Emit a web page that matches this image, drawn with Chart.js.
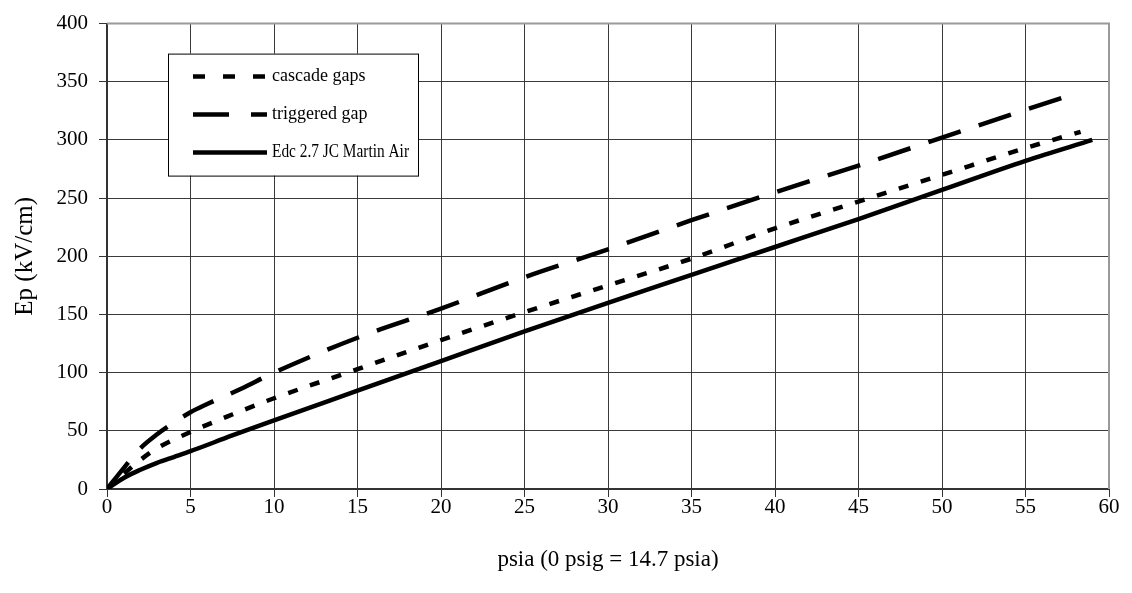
<!DOCTYPE html>
<html>
<head>
<meta charset="utf-8">
<script src="https://cdn.jsdelivr.net/npm/chart.js@4.4.1/dist/chart.umd.min.js"></script>
<style>
    html, body { margin: 0; padding: 0; background: #fff; }
    #wrap { width: 1132px; height: 593px; }
</style>
</head>
<body>
<div id="wrap"><canvas id="ep-chart" width="1132" height="593"></canvas></div>
<script>
// pressure (psia) and peak field (kV/cm) for each curve
const psiCascade = [0, 1, 2, 3, 5, 7.5, 10, 15, 20, 25, 30, 35, 40, 45, 50, 55, 58.3];
const epCascade = [0, 13, 25, 35, 49, 64, 78, 103, 128, 152, 175, 198, 224, 247, 270, 293, 307];

const psiTriggered = [0, 1, 2, 3, 4, 5, 6, 8, 10, 15, 20, 25, 30, 35, 40, 45, 50, 55, 58];
const epTriggered = [0, 18, 35, 47, 57, 66, 73, 86, 100, 130, 155, 182, 206, 231, 255, 278, 302, 326, 340];

const psiMartin = [0, 1, 2, 3, 4, 5, 7.5, 10, 15, 20, 25, 30, 35, 40, 45, 50, 55, 59];
const epMartin = [0, 9.5, 16.5, 22.5, 27.5, 32.5, 46, 59, 84.5, 110, 135.5, 160, 184, 208, 232, 257, 282, 300];

const seriesNames = ['cascade gaps', 'triggered gap', 'Edc 2.7 JC Martin Air'];
const xTicks = [0, 5, 10, 15, 20, 25, 30, 35, 40, 45, 50, 55, 60];
const yTicks = [0, 50, 100, 150, 200, 250, 300, 350, 400];

const FONT = '"Liberation Serif", "Times New Roman", serif';

const toPoints = (xs, ys) => xs.map((x, i) => ({ x: x, y: ys[i] }));

// grey frame on top/right of the plot
const plotFrame = {
    id: 'plotFrame',
    afterDraw(chart) {
        const { ctx, chartArea: a } = chart;
        ctx.save();
        ctx.strokeStyle = '#9a9a9a';
        ctx.lineWidth = 2;
        ctx.beginPath();
        ctx.moveTo(a.left, a.top);
        ctx.lineTo(a.right, a.top);
        ctx.lineTo(a.right, a.bottom);
        ctx.stroke();
        ctx.restore();
    }
};

// boxed legend sitting inside the plot area
const boxLegend = {
    id: 'boxLegend',
    afterDraw(chart, args, opts) {
        const { ctx, chartArea: a } = chart;
        const x0 = a.left + opts.left;
        const y0 = a.top + opts.top;
        ctx.save();
        ctx.fillStyle = '#fff';
        ctx.fillRect(x0, y0, opts.width, opts.height);
        ctx.strokeStyle = '#000';
        ctx.lineWidth = 1;
        ctx.strokeRect(x0 + 0.5, y0 + 0.5, opts.width, opts.height);

        chart.data.datasets.forEach((ds, i) => {
            const y = y0 + opts.firstRow + i * opts.rowGap;
            ctx.strokeStyle = ds.borderColor;
            ctx.lineWidth = ds.borderWidth;
            ctx.lineCap = 'butt';
            ctx.setLineDash(opts.dashes[i]);
            ctx.beginPath();
            ctx.moveTo(x0 + 25, y);
            ctx.lineTo(x0 + 99, y);
            ctx.stroke();
            ctx.setLineDash([]);

            ctx.fillStyle = '#000';
            ctx.font = '18px ' + FONT;
            ctx.textBaseline = 'middle';
            ctx.textAlign = 'left';
            // long labels get squeezed to stay inside the box
            ctx.fillText(ds.label, x0 + 104, y, opts.width - 113);
        });
        ctx.restore();
    }
};

const ctx = document.getElementById('ep-chart').getContext('2d');
new Chart(ctx, {
    type: 'scatter',
    data: {
        datasets: [
            {
                label: seriesNames[0],
                data: toPoints(psiCascade, epCascade),
                borderColor: '#000',
                borderWidth: 4.5,
                borderDash: [10, 13],
                showLine: true,
                pointRadius: 0,
                cubicInterpolationMode: 'monotone'
            },
            {
                label: seriesNames[1],
                data: toPoints(psiTriggered, epTriggered),
                borderColor: '#000',
                borderWidth: 4.5,
                borderDash: [34, 19],
                showLine: true,
                pointRadius: 0,
                cubicInterpolationMode: 'monotone'
            },
            {
                label: seriesNames[2],
                data: toPoints(psiMartin, epMartin),
                borderColor: '#000',
                borderWidth: 4.5,
                showLine: true,
                pointRadius: 0,
                cubicInterpolationMode: 'monotone'
            }
        ]
    },
    options: {
        responsive: false,
        animation: false,
        layout: { padding: { left: 0, top: 20, right: 23, bottom: 0 } },
        plugins: {
            legend: { display: false },
            tooltip: { enabled: false },
            boxLegend: {
                left: 61, top: 30, width: 250, height: 122,
                firstRow: 23, rowGap: 38,
                dashes: [[12, 18], [36, 22], []]
            }
        },
        scales: {
            x: {
                type: 'linear',
                min: 0,
                max: 60,
                afterBuildTicks: (scale) => { scale.ticks = xTicks.map(v => ({ value: v })); },
                afterFit: (scale) => { scale.height = 104; },
                ticks: {
                    color: '#000',
                    font: { family: FONT, size: 21 },
                    padding: -2,
                    maxRotation: 0
                },
                grid: { color: '#3a3a3a', lineWidth: 1, tickLength: 8, tickColor: '#333' },
                border: { color: '#333', width: 2 },
                title: {
                    display: true,
                    text: 'psia (0 psig = 14.7 psia)',
                    color: '#000',
                    font: { family: FONT, size: 23 },
                    padding: { top: 0, bottom: 19 }
                }
            },
            y: {
                type: 'linear',
                min: 0,
                max: 400,
                afterBuildTicks: (scale) => { scale.ticks = yTicks.map(v => ({ value: v })); },
                afterFit: (scale) => { scale.width = 107; },
                ticks: {
                    color: '#000',
                    font: { family: FONT, size: 21 },
                    padding: 11
                },
                grid: { color: '#3a3a3a', lineWidth: 1, tickLength: 8, tickColor: '#333' },
                border: { color: '#333', width: 2 },
                title: {
                    display: true,
                    text: 'Ep (kV/cm)',
                    color: '#000',
                    font: { family: FONT, size: 25 },
                    padding: { top: 10, bottom: 0 }
                }
            }
        }
    },
    plugins: [plotFrame, boxLegend]
});
</script>
</body>
</html>
